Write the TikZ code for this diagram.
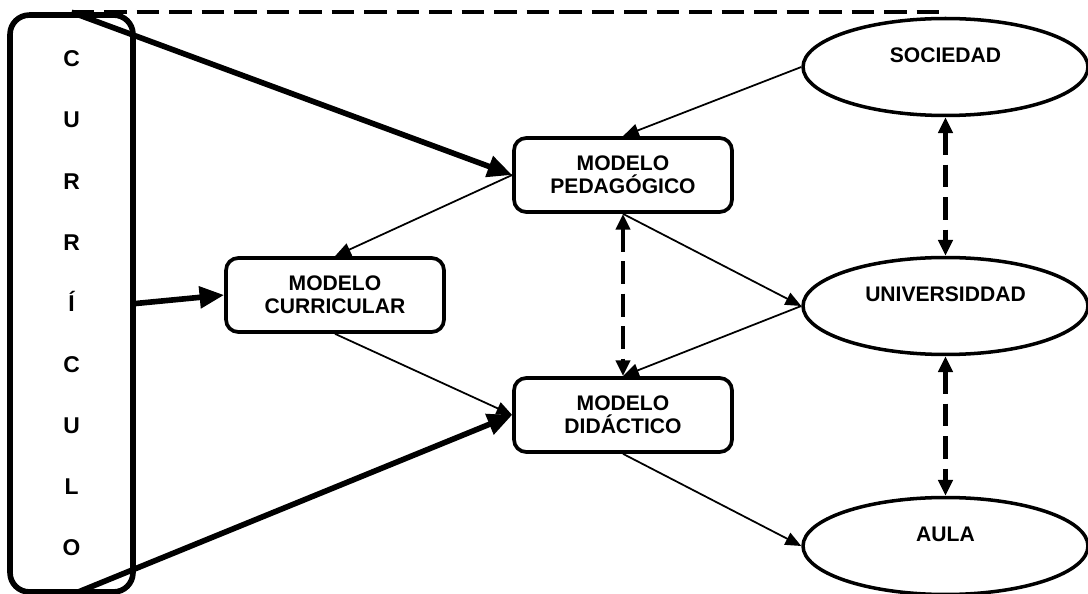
\documentclass[tikz,border=0pt]{standalone}
\usepackage{fontspec}
\setmainfont{Liberation Sans}
\usetikzlibrary{arrows.meta,shapes.geometric}

\begin{document}
\begin{tikzpicture}[x=0.02cm,y=-0.02cm,
  font=\fontsize{12}{13}\selectfont\bfseries,
  modelo/.style={shape=rectangle,draw,rounded corners=7pt,line width=2.1pt,minimum width=4.36cm,minimum height=1.48cm,inner sep=0pt,align=center},
  ambito/.style={shape=ellipse,draw,line width=2pt,minimum width=5.7cm,minimum height=1.94cm,inner sep=0pt,text height=8.6pt,text depth=13.6pt},
  fina/.style={-{Triangle[length=9pt,width=7.5pt]},line width=1pt},
  gruesa/.style={-{Triangle[length=14pt,width=12pt]},line width=3.2pt},
  mutua/.style={{Triangle[length=9pt,width=8pt]}-{Triangle[length=9pt,width=8pt]},line width=2.4pt,dash pattern=on 13pt off 5.5pt}]

\useasboundingbox (0,0) rectangle (1088,594);

\node[shape=rectangle,draw,rounded corners=11pt,line width=3.2pt,minimum width=2.46cm,minimum height=11.54cm,align=center,font=\fontsize{13}{34.8}\selectfont\bfseries] (curr) at (71.5,303.5) {C\\U\\R\\R\\Í\\C\\U\\L\\O};
\node[modelo] (mp) at (623,175) {MODELO\\PEDAGÓGICO};
\node[modelo] (mc) at (335,295) {MODELO\\CURRICULAR};
\node[modelo] (md) at (623,415) {MODELO\\DIDÁCTICO};
\node[ambito] (soc) at (945.5,67) {SOCIEDAD};
\node[ambito] (univ) at (945.5,306) {UNIVERSIDDAD};
\node[ambito] (aula) at (945.5,546) {AULA};

\draw[line width=2.4pt,dash pattern=on 13pt off 5.5pt] (curr.north) -- (curr.north -| soc.north);
\draw[gruesa] (curr.north) -- (mp.west);
\draw[gruesa] (curr.east) -- (mc.west);
\draw[gruesa] (curr.south) -- (md.west);
\draw[fina] (soc.west) -- (mp.north);
\draw[fina] (mp.west) -- (mc.north);
\draw[fina] (mc.south) -- (md.west);
\draw[fina] (mp.south) -- (univ.west);
\draw[fina] (univ.west) -- (md.north);
\draw[fina] (md.south) -- (aula.west);
\draw[mutua] (mp.south) -- (md.north);
\draw[mutua] (soc.south) -- (univ.north);
\draw[mutua] (univ.south) -- (aula.north);
\end{tikzpicture}
\end{document}
